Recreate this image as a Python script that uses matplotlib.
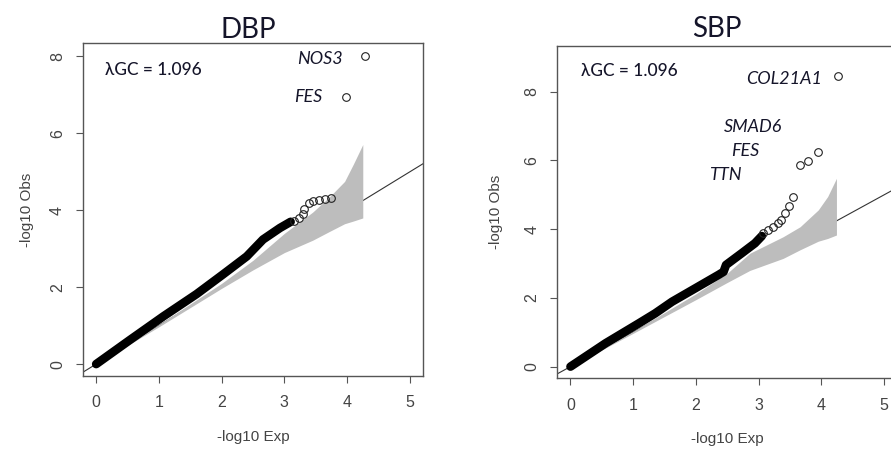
import matplotlib.pyplot as plt

# ---- data ----
titles = ["DBP", "SBP"]
lambda_gc = ["λGC = 1.096", "λGC = 1.096"]

# dense part of each QQ curve (thousands of overlapping points)
dbp_dense_x = [0.0, 0.54, 1.07, 1.60, 2.02, 2.40, 2.53, 2.66, 2.93, 3.10]
dbp_dense_y = [0.0, 0.63, 1.24, 1.82, 2.33, 2.80, 3.02, 3.24, 3.54, 3.70]
sbp_dense_x = [0.0, 0.56, 1.09, 1.35, 1.62, 1.99, 2.36, 2.44, 2.48, 2.73, 2.94, 3.05]
sbp_dense_y = [0.0, 0.68, 1.26, 1.55, 1.89, 2.28, 2.67, 2.76, 2.96, 3.30, 3.59, 3.80]

# sparse tail points
dbp_pts_x = [3.16, 3.24, 3.30, 3.32, 3.39, 3.45, 3.55, 3.64, 3.75, 3.98, 4.28]
dbp_pts_y = [3.71, 3.80, 3.89, 4.04, 4.19, 4.25, 4.28, 4.30, 4.32, 6.94, 8.00]
sbp_pts_x = [3.07, 3.15, 3.23, 3.31, 3.36, 3.42, 3.49, 3.55, 3.66, 3.79, 3.95, 4.27]
sbp_pts_y = [3.88, 3.97, 4.05, 4.17, 4.26, 4.48, 4.68, 4.94, 5.86, 5.98, 6.25, 8.45]

# 95% confidence band
dbp_band_x = [0.0, 1.0, 2.0, 2.5, 3.0, 3.45, 3.72, 3.96, 4.10, 4.25]
dbp_band_hi = [0.0, 1.03, 2.10, 2.70, 3.40, 3.95, 4.35, 4.75, 5.20, 5.71]
dbp_band_lo = [0.0, 0.97, 1.97, 2.45, 2.90, 3.22, 3.45, 3.65, 3.72, 3.80]
sbp_band_x = [0.0, 1.0, 2.0, 2.5, 2.86, 3.39, 3.66, 3.95, 4.10, 4.24]
sbp_band_hi = [0.0, 1.03, 2.12, 2.72, 3.30, 3.78, 4.07, 4.56, 4.95, 5.48]
sbp_band_lo = [0.0, 0.97, 1.95, 2.45, 2.80, 3.15, 3.40, 3.65, 3.73, 3.83]

# gene labels: (name, point x, point y)
dbp_genes = [("NOS3", 4.28, 8.00), ("FES", 3.98, 6.94)]
sbp_genes = [("COL21A1", 4.27, 8.45), ("SMAD6", 3.95, 6.25),
             ("FES", 3.79, 5.98), ("TTN", 3.66, 5.86)]

xticks = [0, 1, 2, 3, 4, 5]
yticks = [0, 2, 4, 6, 8]

fig = plt.figure(figsize=(8.91, 4.51), dpi=100)
ax1 = fig.add_axes([83 / 891, 75 / 451, 340 / 891, 333 / 451])
ax2 = fig.add_axes([557.3 / 891, 72.7 / 451, 340 / 891, 332.6 / 451])

callout = ['Lato', 'DejaVu Sans']
txtcol = '#15152a'

panels = [
    (ax1, dbp_dense_x, dbp_dense_y, dbp_pts_x, dbp_pts_y, dbp_band_x, dbp_band_lo, dbp_band_hi,
     dbp_genes, (-0.31, 8.35), [(-16, -2), (-17, 0)], 0.485, 3.8, (0.14, 7.66)),
    (ax2, sbp_dense_x, sbp_dense_y, sbp_pts_x, sbp_pts_y, sbp_band_x, sbp_band_lo, sbp_band_hi,
     sbp_genes, (-0.34, 9.34), [(-12, -2), (-26, 18), (-35, 7), (-42, -7)], 0.469, 6.5, (0.16, 8.6)),
]

for i, (ax, dx, dy, px, py, bx, blo, bhi, genes, ylim, offs, tx, tpad, lam_xy) in enumerate(panels):
    ax.axline((0, 0), slope=1, color='#333333', lw=0.8, zorder=1)
    ax.fill_between(bx, blo, bhi, color='#bdbdbd', lw=0, zorder=2)
    ax.plot(dx, dy, color='black', lw=6.2, solid_capstyle='round', solid_joinstyle='round', zorder=3)
    ax.plot(px, py, 'o', mfc='none', mec='#222222', mew=0.8, ms=5.5, zorder=4)

    for (name, gx, gy), off in zip(genes, offs):
        ax.annotate(name, (gx, gy), xytext=off, textcoords='offset points',
                    ha='right', va='center', fontsize=13, style='italic',
                    family=callout, color=txtcol)

    ax.text(lam_xy[0], lam_xy[1], lambda_gc[i], fontsize=12.5, family=callout,
            color=txtcol, va='center', ha='left', fontweight='medium')

    ax.set_title(titles[i], fontsize=20, family=callout, color=txtcol, x=tx, pad=tpad)

    ax.set_xlim(-0.21, 5.21)
    ax.set_ylim(*ylim)
    ax.set_xticks(xticks)
    ax.set_yticks(yticks)
    ax.tick_params(direction='out', length=5, width=0.8, color='#555555',
                   labelsize=11.5, labelcolor='#444444')
    ax.tick_params(axis='x', pad=9)
    ax.tick_params(axis='y', pad=8)
    for lab in ax.get_yticklabels():
        lab.set_rotation(90)
        lab.set_va('center')
    for lab in ax.get_xticklabels() + ax.get_yticklabels():
        lab.set_family('Liberation Sans')
    for s in ax.spines.values():
        s.set_color('#555555')
        s.set_linewidth(1.0)

    ax.set_xlabel('-log10 Exp', fontsize=11, color='#444444', family='Liberation Sans', va='center')
    ax.set_ylabel('-log10 Obs', fontsize=11, color='#444444', family='Liberation Sans', va='center')
    ax.xaxis.set_label_coords(0.5, -0.182)

ax1.yaxis.set_label_coords(-0.165, 0.5)
ax2.yaxis.set_label_coords(-0.18, 0.5)

fig.savefig('out.png', dpi=100)
